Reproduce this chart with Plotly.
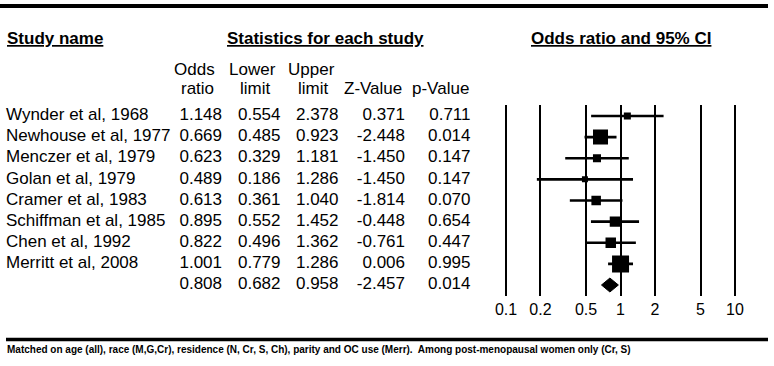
import plotly.graph_objects as go

# ---------------- data ----------------
studies = ["Wynder et al, 1968", "Newhouse et al, 1977", "Menczer et al, 1979",
           "Golan et al, 1979", "Cramer et al, 1983", "Schiffman et al, 1985",
           "Chen et al, 1992", "Merritt et al, 2008"]
odds_ratio = [1.148, 0.669, 0.623, 0.489, 0.613, 0.895, 0.822, 1.001]
lower_limit = [0.554, 0.485, 0.329, 0.186, 0.361, 0.552, 0.496, 0.779]
upper_limit = [2.378, 0.923, 1.181, 1.286, 1.040, 1.452, 1.362, 1.286]
z_value = [0.371, -2.448, -1.450, -1.450, -1.814, -0.448, -0.761, 0.006]
p_value = [0.711, 0.014, 0.147, 0.147, 0.070, 0.654, 0.447, 0.995]
rel_weight = [5.0, 23.1, 6.6, 3.7, 9.3, 11.3, 11.3, 29.7]

summary_or = 0.808
summary_lower = 0.682
summary_upper = 0.958
summary_z = -2.457
summary_p = 0.014

tick_vals = [0.1, 0.2, 0.5, 1, 2, 5, 10]
tick_text = ["0.1", "0.2", "0.5", "1", "2", "5", "10"]

footnote = ("Matched on age (all), race (M,G,Cr), residence (N, Cr, S, Ch), parity and OC use (Merr).  "
            "Among post-menopausal women only (Cr, S)")

# ---------------- layout helpers ----------------
W, H = 774, 366
FONT = "Liberation Sans, Arial, Helvetica, sans-serif"
FS = 17


def px(x):
    return x / W


def py(y):
    return 1 - y / H


forest_left, forest_right = 494.55, 746.45
plot_top, plot_bottom = 105, 296

n_rows = len(studies) + 1
row_idx = list(range(n_rows))

fig = go.Figure()

# ---- table text (x2 axis = pixel scale) ----
fmt = lambda v: f"{v:.3f}"
col_right = [221, 279.5, 337.5, 404, 469.5]
columns = [
    [fmt(v) for v in odds_ratio] + [fmt(summary_or)],
    [fmt(v) for v in lower_limit] + [fmt(summary_lower)],
    [fmt(v) for v in upper_limit] + [fmt(summary_upper)],
    [fmt(v) for v in z_value] + [fmt(summary_z)],
    [fmt(v) for v in p_value] + [fmt(summary_p)],
]

fig.add_trace(go.Scatter(
    x=[6] * len(studies), y=row_idx[:-1], text=studies, mode="text",
    textposition="middle right", textfont=dict(family=FONT, size=FS, color="black"),
    xaxis="x2", yaxis="y", hoverinfo="skip", showlegend=False))

for xr, col in zip(col_right, columns):
    fig.add_trace(go.Scatter(
        x=[xr + 1] * n_rows, y=row_idx, text=col, mode="text",
        textposition="middle left", textfont=dict(family=FONT, size=FS, color="black"),
        xaxis="x2", yaxis="y", hoverinfo="skip", showlegend=False))

# ---- confidence interval lines ----
ci_x, ci_y = [], []
for i, (lo, hi) in enumerate(zip(lower_limit, upper_limit)):
    ci_x += [lo, hi, None]
    ci_y += [i, i, None]
fig.add_trace(go.Scatter(x=ci_x, y=ci_y, mode="lines",
                         line=dict(color="black", width=2.6),
                         hoverinfo="skip", showlegend=False))

# ---- study boxes ----
box_sizes = [3.12 * w ** 0.5 for w in rel_weight]
fig.add_trace(go.Scatter(x=odds_ratio, y=row_idx[:-1], mode="markers",
                         marker=dict(symbol="square", size=box_sizes, color="black",
                                     opacity=1, line=dict(width=0)),
                         showlegend=False))

# ---- summary diamond ----
s = len(studies)
dh = 0.33
fig.add_trace(go.Scatter(
    x=[summary_lower, summary_or, summary_upper, summary_or, summary_lower],
    y=[s, s - dh, s, s + dh, s], mode="lines", fill="toself",
    fillcolor="black", line=dict(color="black", width=1),
    hoverinfo="skip", showlegend=False))

# ---- headers ----
annotations = []


def ann(text, x, y, size=FS, anchor="center", bold=False, underline=False):
    t = text
    if underline:
        t = f"<u>{t}</u>"
    if bold:
        t = f"<b>{t}</b>"
    annotations.append(dict(text=t, x=px(x), y=py(y), xref="paper", yref="paper",
                            xanchor=anchor, yanchor="middle", showarrow=False,
                            font=dict(family=FONT, size=size, color="black")))


ann("Study name", 5, 38, size=17, anchor="left", bold=True, underline=True)
ann("Statistics for each study", 325, 38, size=17, bold=True, underline=True)
ann("Odds ratio and 95% CI", 621, 38, size=17, bold=True, underline=True)

ann("Odds", 194, 69)
ann("ratio", 197, 88)
ann("Lower", 252, 69)
ann("limit", 255, 88)
ann("Upper", 311, 69)
ann("limit", 313, 88)
ann("Z-Value", 373, 88)
ann("p-Value", 440, 88)

ann(footnote, 5, 349, size=10, anchor="left", bold=True)

shapes = [
    dict(type="line", xref="paper", yref="paper", x0=px(0), x1=px(768), y0=py(6), y1=py(6),
         line=dict(color="black", width=4)),
    dict(type="line", xref="paper", yref="paper", x0=px(6), x1=px(768), y0=py(339.5), y1=py(339.5),
         line=dict(color="black", width=3.5)),
]

fig.update_layout(
    width=W, height=H, margin=dict(l=0, r=0, t=0, b=0),
    paper_bgcolor="white", plot_bgcolor="white",
    showlegend=False, annotations=annotations, shapes=shapes,
    xaxis=dict(type="log", range=[-1.1, 1.1], domain=[px(forest_left), px(forest_right)],
               anchor="y", showgrid=True, gridcolor="black", gridwidth=2,
               tickvals=tick_vals, ticktext=tick_text, ticks="", showline=False,
               zeroline=False, tickfont=dict(family=FONT, size=16, color="black"),
               ticklabelstandoff=2, fixedrange=True),
    xaxis2=dict(range=[0, forest_left], domain=[0, px(forest_left)], anchor="y",
                visible=False, fixedrange=True),
    yaxis=dict(range=[n_rows - 0.48, -0.52], domain=[py(plot_bottom), py(plot_top)],
               visible=False, fixedrange=True),
)

fig.write_html(
    "out.html",
    config={"displayModeBar": False},
    post_script="document.body.style.margin='0';document.body.style.overflow='hidden';"
                "document.documentElement.style.overflow='hidden';",
)
